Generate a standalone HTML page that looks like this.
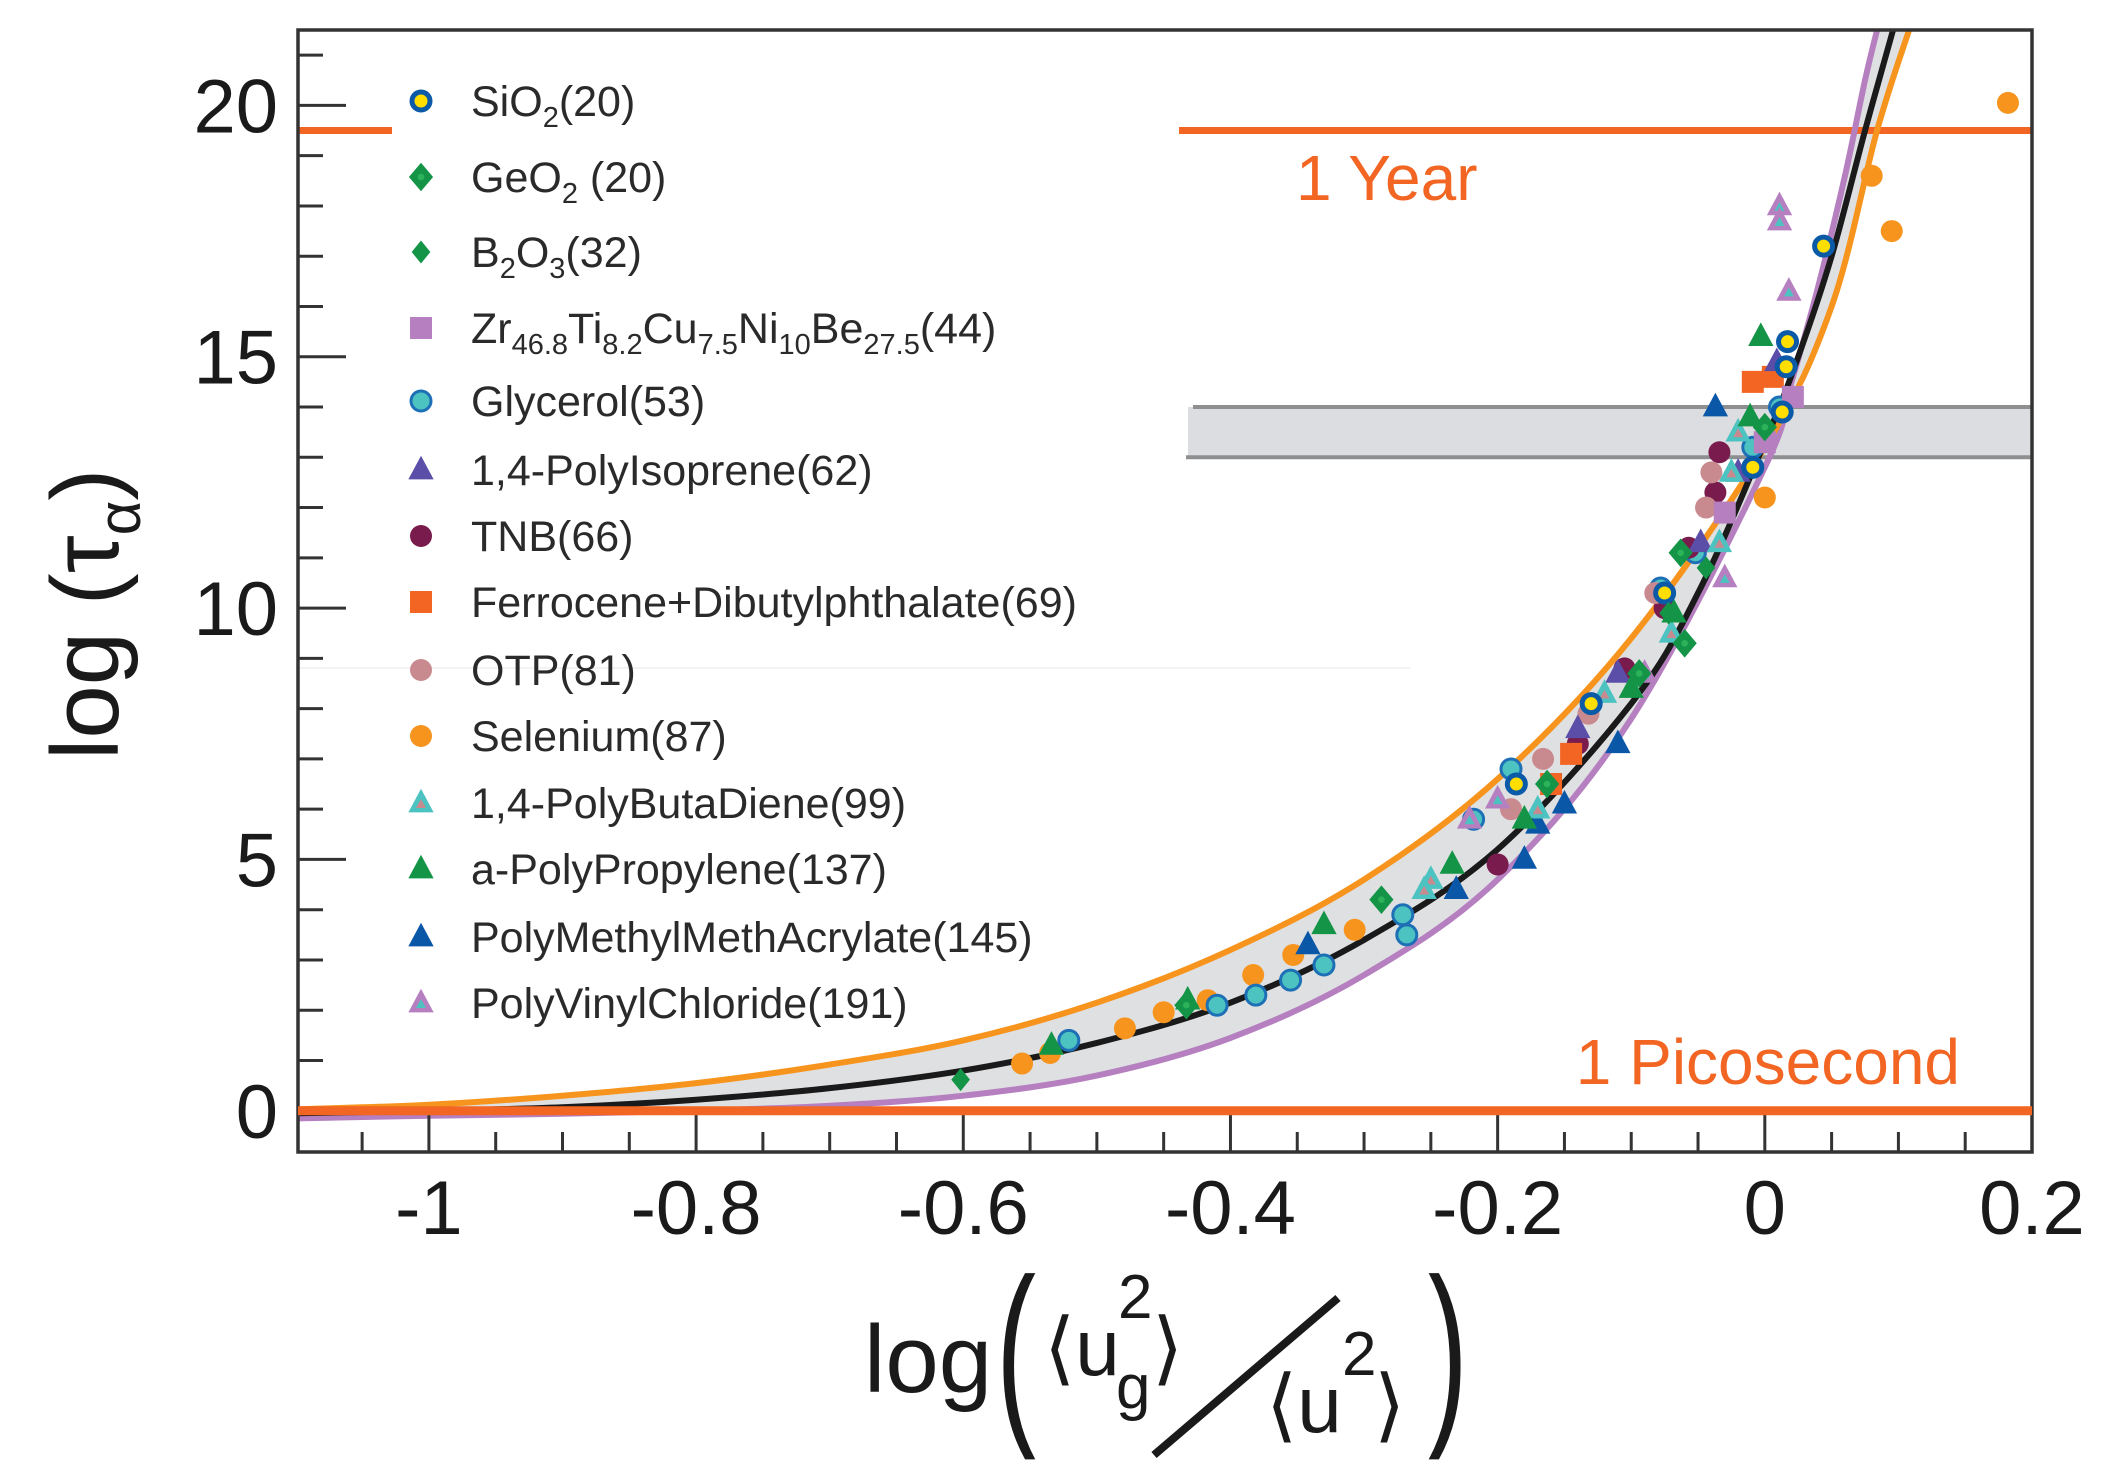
<!DOCTYPE html>
<html><head><meta charset="utf-8"><title>log tau vs log u2</title>
<style>
html,body{margin:0;padding:0;background:#fff;}
svg{display:block;font-family:"Liberation Sans",Arial,sans-serif;}
</style></head>
<body>
<svg id="chart" width="2106" height="1477" viewBox="0 0 2106 1477" xmlns="http://www.w3.org/2000/svg">
<g id="g-band"></g>
<g id="g-grid"></g>
<g id="g-curves"></g>
<g id="g-points"></g>
<g id="g-axes"></g>
<g id="g-legend"></g>
</svg>
<script>
// ---- data ----
const xTicks = [-1, -0.8, -0.6, -0.4, -0.2, 0, 0.2];
const xTickLabels = ["-1", "-0.8", "-0.6", "-0.4", "-0.2", "0", "0.2"];
const yTicks = [0, 5, 10, 15, 20];
const yTickLabels = ["0", "5", "10", "15", "20"];
const yearValue = 19.5;
const picoValue = 0;
const bandLow = 13.0;
const bandHigh = 14.0;

const blackX = [-1.098,-1,-0.9,-0.8,-0.7,-0.6,-0.5,-0.4,-0.3,-0.2,-0.1,-0.05,0,0.025,0.05,0.075,0.096];
const blackY = [-0.05,0.0,0.07,0.22,0.45,0.8,1.35,2.15,3.4,5.2,8.1,10.3,13.3,15.0,17.0,19.5,21.5];
const orangeX = [-1.098,-1,-0.9,-0.8,-0.7,-0.6,-0.5,-0.4,-0.3,-0.2,-0.1,0,0.05,0.084,0.108];
const orangeY = [0.03,0.12,0.3,0.55,0.92,1.4,2.15,3.2,4.6,6.6,9.4,13.2,16.0,19.5,21.5];
const purpleX = [-1.098,-1,-0.9,-0.8,-0.7,-0.6,-0.5,-0.4,-0.3,-0.2,-0.1,0,0.02,0.04,0.06,0.075,0.085];
const purpleY = [-0.15,-0.1,-0.06,0.0,0.1,0.3,0.7,1.45,2.7,4.6,7.8,12.8,14.5,16.4,18.6,20.5,21.6];

const sio2X = [0.044,0.017,0.016,0.013,-0.009,-0.075,-0.13,-0.186];
const sio2Y = [17.2,15.3,14.8,13.9,12.8,10.3,8.1,6.5];
const geo2X = [0,-0.063,-0.06,-0.094,-0.163,-0.287,-0.433];
const geo2Y = [13.6,11.1,9.3,8.7,6.5,4.2,2.1];
const b2o3X = [-0.602,-0.044,-0.072];
const b2o3Y = [0.62,10.8,9.9];
const zrX = [0.021,0,-0.03];
const zrY = [14.2,13.3,11.9];
const glycX = [-0.521,-0.41,-0.381,-0.355,-0.33,-0.268,-0.271,-0.218,-0.19,-0.078,-0.052,-0.009,0.011];
const glycY = [1.4,2.1,2.3,2.6,2.9,3.5,3.9,5.8,6.8,10.4,11.1,13.2,14.0];
const pisoX = [0.009,-0.02,-0.048,-0.11,-0.14];
const pisoY = [14.9,12.7,11.3,8.7,7.6];
const tnbX = [-0.034,-0.037,-0.057,-0.075,-0.105,-0.2,-0.14];
const tnbY = [13.1,12.3,11.2,10.0,8.8,4.9,7.3];
const ferroX = [-0.009,0.006,-0.145,-0.16];
const ferroY = [14.5,14.6,7.1,6.5];
const otpX = [-0.04,-0.044,-0.082,-0.132,-0.166,-0.19];
const otpY = [12.7,12.0,10.3,7.9,7.0,6.0];
const seX = [-0.556,-0.535,-0.479,-0.45,-0.417,-0.383,-0.353,-0.307,0,0.08,0.095,0.182];
const seY = [0.94,1.15,1.64,1.96,2.2,2.7,3.1,3.6,12.2,18.6,17.5,20.05];
const pbdX = [-0.02,-0.025,-0.034,-0.07,-0.12,-0.17,-0.25,-0.255];
const pbdY = [13.5,12.7,11.3,9.5,8.3,6.0,4.6,4.4];
const appX = [-0.003,-0.011,-0.068,-0.1,-0.18,-0.234,-0.33,-0.432,-0.534];
const appY = [15.4,13.8,9.9,8.4,5.8,4.9,3.7,2.2,1.3];
const pmmaX = [-0.037,-0.15,-0.11,-0.17,-0.231,-0.18,-0.342];
const pmmaY = [14.0,6.1,7.3,5.7,4.4,5.0,3.3];
const pvcX = [0.011,0.011,0.018,-0.03,-0.09,-0.2,-0.221];
const pvcY = [18.0,17.7,16.3,10.6,8.7,6.2,5.8];

// ---- layout ----
const L=298,R=2032,T=30,B=1152;
const xMin=-1.098,xMax=0.2,yMin=-0.82,yMax=21.5;
const sx=v=>L+(v-xMin)/(xMax-xMin)*(R-L);
const sy=v=>B-(v-yMin)/(yMax-yMin)*(B-T);
const NS="http://www.w3.org/2000/svg";
function mk(tag,attrs,parent){const e=document.createElementNS(NS,tag);for(const k in attrs)e.setAttribute(k,attrs[k]);if(parent)parent.appendChild(e);return e;}
function smooth(xs,ys){
  const p=xs.map((x,i)=>[sx(x),sy(ys[i])]);
  let d="M"+p[0][0]+","+p[0][1];
  for(let i=0;i<p.length-1;i++){
    const p0=p[Math.max(0,i-1)],p1=p[i],p2=p[i+1],p3=p[Math.min(p.length-1,i+2)];
    const c1=[p1[0]+(p2[0]-p0[0])/6,p1[1]+(p2[1]-p0[1])/6];
    const c2=[p2[0]-(p3[0]-p1[0])/6,p2[1]-(p3[1]-p1[1])/6];
    d+=" C"+c1[0]+","+c1[1]+" "+c2[0]+","+c2[1]+" "+p2[0]+","+p2[1];
  }
  return d;
}
const svg=document.getElementById('chart');
const gBand=document.getElementById('g-band'),gGrid=document.getElementById('g-grid'),gCurves=document.getElementById('g-curves'),gPts=document.getElementById('g-points'),gAx=document.getElementById('g-axes'),gLeg=document.getElementById('g-legend');

const clip=mk('clipPath',{id:'plotclip'},svg);
mk('rect',{x:L,y:T,width:R-L,height:B-T},clip);
[gBand,gCurves,gPts].forEach(g=>g.setAttribute('clip-path','url(#plotclip)'));

const faint=mk('line',{x1:300,y1:668,x2:1410,y2:668,stroke:'#f3f3f3','stroke-width':2},gGrid);



let fd=smooth(orangeX,orangeY);
const rpx=purpleX.slice().reverse(),rpy=purpleY.slice().reverse();
fd+=" L"+sx(rpx[0])+","+sy(rpy[0])+" "+smooth(rpx,rpy).replace(/^M/," L")+" Z";
const env=mk('path',{d:fd,fill:'#dfe0e2',stroke:'none'},gBand);



const band=mk('rect',{x:1188,y:sy(bandHigh),width:R-1188,height:sy(bandLow)-sy(bandHigh),fill:'#dcdde0',stroke:'none'},gGrid);


const bt=mk('line',{x1:1193,y1:sy(bandHigh),x2:R,y2:sy(bandHigh),stroke:'#8e8f91','stroke-width':4},gGrid);


const bb=mk('line',{x1:1186,y1:sy(bandLow),x2:R,y2:sy(bandLow),stroke:'#8e8f91','stroke-width':4},gGrid);



const y1=mk('line',{x1:1179,y1:sy(yearValue),x2:R,y2:sy(yearValue),stroke:'#f26522','stroke-width':7},gGrid);


const y1b=mk('line',{x1:L,y1:sy(yearValue),x2:392,y2:sy(yearValue),stroke:'#f26522','stroke-width':7},gGrid);


const yt=mk('text',{x:1296,y:200,'font-size':64,fill:'#f26522'},gGrid);
yt.textContent='1 Year';



function curve(xs,ys,col,w,name){
  const p=mk('path',{d:smooth(xs,ys),fill:'none',stroke:col,'stroke-width':w},gCurves);
  
  
}
curve(purpleX,purpleY,'#b57fc0',6,'purple-fit-curve');
curve(orangeX,orangeY,'#f7941d',6,'orange-fit-curve');

function marker(type,x,y,s,g){
  const cx=sx(x),cy=sy(y);const r=s;
  if(type==='sio2'){mk('circle',{cx,cy,r:r-2,fill:'#ffde00',stroke:'#0a5aa8','stroke-width':5},g);}
  else if(type==='diamond'){mk('polygon',{points:`${cx},${cy-r*1.3} ${cx+r*1.1},${cy} ${cx},${cy+r*1.3} ${cx-r*1.1},${cy}`,fill:'#149447'},g);mk('circle',{cx,cy,r:r*0.3,fill:'#2cb35a'},g);}
  else if(type==='diamondS'){mk('polygon',{points:`${cx},${cy-r*1.05} ${cx+r*0.85},${cy} ${cx},${cy+r*1.05} ${cx-r*0.85},${cy}`,fill:'#149447'},g);}
  else if(type==='square'){mk('rect',{x:cx-r,y:cy-r,width:2*r,height:2*r,fill:arguments[5]},g);}
  else if(type==='glyc'){mk('circle',{cx,cy,r:r-1,fill:'#4cc3c0',stroke:'#1d6fb6','stroke-width':3},g);}
  else if(type==='circle'){mk('circle',{cx,cy,r,fill:arguments[5]},g);}
  else if(type==='tri'){mk('polygon',{points:`${cx},${cy-r*1.3} ${cx+r*1.15},${cy+r*0.85} ${cx-r*1.15},${cy+r*0.85}`,fill:arguments[5]},g);
    if(arguments[6]) mk('polygon',{points:`${cx},${cy-r*0.35} ${cx+r*0.45},${cy+r*0.45} ${cx-r*0.45},${cy+r*0.45}`,fill:arguments[6]},g);}
}
const series=[
 {name:'series-selenium',xs:seX,ys:seY,type:'circle',c:'#f7941d'},
 {name:'series-glycerol',xs:glycX,ys:glycY,type:'glyc'},
 {name:'series-tnb',xs:tnbX,ys:tnbY,type:'circle',c:'#7a1b4e'},
 {name:'series-otp',xs:otpX,ys:otpY,type:'circle',c:'#c98a8f'},
 {name:'series-ferrocene',xs:ferroX,ys:ferroY,type:'square',c:'#f26522'},
 {name:'series-zr-alloy',xs:zrX,ys:zrY,type:'square',c:'#b57fc0'},
 {name:'series-polyisoprene',xs:pisoX,ys:pisoY,type:'tri',c:'#5b4ea8'},
 {name:'series-pmma',xs:pmmaX,ys:pmmaY,type:'tri',c:'#0a57a8'},
 {name:'series-polybutadiene',xs:pbdX,ys:pbdY,type:'tri',c:'#4cc3c0',c2:'#c98a8f'},
 {name:'series-pvc',xs:pvcX,ys:pvcY,type:'tri',c:'#b57fc0',c2:'#4cc3c0'},
 {name:'series-polypropylene',xs:appX,ys:appY,type:'tri',c:'#149447'},
 {name:'series-sio2',xs:sio2X,ys:sio2Y,type:'sio2'},
 {name:'series-geo2',xs:geo2X,ys:geo2Y,type:'diamond'},
 {name:'series-b2o3',xs:b2o3X,ys:b2o3Y,type:'diamondS'}
];
series.forEach(s=>{
  const g=mk('g',{},gPts);
  
  
  s.xs.forEach((x,i)=>marker(s.type,x,s.ys[i],11,g,s.c,s.c2));
});
curve(blackX,blackY,'#1a1a1a',6,'black-fit-curve');

const frame=mk('rect',{x:L,y:T,width:R-L,height:B-T,fill:'none',stroke:'#333','stroke-width':3.5},gAx);


for(let v=-1.05;v<0.2001;v+=0.05){
  const vv=Math.round(v*100)/100;const major=Math.abs(vv*10-Math.round(vv*10))<1e-6 && Math.round(vv*10)%2===0;
  const tk=mk('line',{x1:sx(vv),y1:B,x2:sx(vv),y2:B-(major?38:20),stroke:'#333','stroke-width':3},gAx);
  
  
}
for(let v=0;v<=21;v++){
  const major=v%5===0;
  const tk=mk('line',{x1:L,y1:sy(v),x2:L+(major?48:25),y2:sy(v),stroke:'#333','stroke-width':3},gAx);
  
  
}
const pl=mk('line',{x1:L,y1:sy(picoValue),x2:R,y2:sy(picoValue),stroke:'#f26522','stroke-width':9},gAx);


const pt=mk('text',{x:1960,y:1084,'font-size':64,fill:'#f26522','text-anchor':'end'},gAx);
pt.textContent='1 Picosecond';



xTicks.forEach((v,i)=>{
  const t=mk('text',{x:sx(v),y:1234,'font-size':76,'text-anchor':'middle',fill:'#1a1a1a'},gAx);
  t.textContent=xTickLabels[i];
  
  
});
yTicks.forEach((v,i)=>{
  const t=mk('text',{x:278,y:sy(v)+27,'font-size':76,'text-anchor':'end',fill:'#1a1a1a'},gAx);
  t.textContent=yTickLabels[i];
  
  
});

const legNames=[
 null,null,null,null,['Glycerol(53)','glyc'],['1,4-PolyIsoprene(62)','tri','#5b4ea8'],['TNB(66)','circle','#7a1b4e'],
 ['Ferrocene+Dibutylphthalate(69)','square','#f26522'],['OTP(81)','circle','#c98a8f'],['Selenium(87)','circle','#f7941d'],
 ['1,4-PolyButaDiene(99)','tri','#4cc3c0','#c98a8f'],['a-PolyPropylene(137)','tri','#149447'],
 ['PolyMethylMethAcrylate(145)','tri','#0a57a8'],['PolyVinylChloride(191)','tri','#b57fc0','#4cc3c0']
];
const legY=[101,177,252,328,401,470,536,602,670,736,803,869,937,1003];
const legKeys=['sio2','geo2','b2o3','zr','glycerol','polyisoprene','tnb','ferrocene','otp','selenium','polybutadiene','polypropylene','pmma','pvc'];
legY.forEach((y,i)=>{
  const g=mk('g',{},gLeg);
  
  
  const mx=421, tx=471, fs=43;
  const cy=y;
  const mg=mk('g',{transform:`translate(${mx-sx(0)},${cy-sy(0)})`},g);
  const t=mk('text',{x:tx,y:cy+15,'font-size':fs,fill:'#2a2a2a'},g);
  const sub=(s)=>`<tspan font-size="29" dy="11">${s}</tspan>`;
  const up=(s)=>`<tspan dy="-11">${s}</tspan>`;
  if(i===0){marker('sio2',0,0,11,mg);t.innerHTML='SiO'+sub('2')+up('(20)');}
  else if(i===1){marker('diamond',0,0,11,mg);t.innerHTML='GeO'+sub('2')+up(' (20)');}
  else if(i===2){marker('diamondS',0,0,11,mg);t.innerHTML='B'+sub('2')+up('O')+sub('3')+up('(32)');}
  else if(i===3){marker('square',0,0,11,mg,'#b57fc0');t.innerHTML='Zr'+sub('46.8')+up('Ti')+sub('8.2')+up('Cu')+sub('7.5')+up('Ni')+sub('10')+up('Be')+sub('27.5')+up('(44)');}
  else {const e=legNames[i];marker(e[1],0,0,11,mg,e[2],e[3]);t.textContent=e[0];}
});

const yl=mk('text',{transform:'translate(118,760) rotate(-90)','font-size':96,fill:'#1a1a1a'},gAx);
yl.innerHTML='log (τ<tspan font-size="60" dy="22">α</tspan><tspan dy="-22">)</tspan>';



const xt=mk('g',{},gAx);


const t1=mk('text',{x:864,y:1392,'font-size':96,fill:'#1a1a1a'},xt);t1.textContent='log';
const t2=mk('text',{transform:'translate(996,1418) scale(0.6,1)','font-size':200,fill:'#1a1a1a'},xt);t2.textContent='(';
const t3=mk('text',{transform:'translate(1428,1418) scale(0.6,1)','font-size':200,fill:'#1a1a1a'},xt);t3.textContent=')';
const t4=mk('text',{x:1044,y:1375,'font-size':80,fill:'#1a1a1a'},xt);t4.textContent='⟨u';
const t5=mk('text',{x:1118,y:1318,'font-size':62,fill:'#1a1a1a'},xt);t5.textContent='2';
const t6=mk('text',{x:1116,y:1408,'font-size':62,fill:'#1a1a1a'},xt);t6.textContent='g';
const t7=mk('text',{x:1152,y:1375,'font-size':80,fill:'#1a1a1a'},xt);t7.textContent='⟩';
mk('line',{x1:1154,y1:1455,x2:1338,y2:1298,stroke:'#1a1a1a','stroke-width':8},xt);
const t8=mk('text',{x:1266,y:1432,'font-size':80,fill:'#1a1a1a'},xt);t8.textContent='⟨u';
const t9=mk('text',{x:1342,y:1375,'font-size':62,fill:'#1a1a1a'},xt);t9.textContent='2';
const t10=mk('text',{x:1374,y:1432,'font-size':80,fill:'#1a1a1a'},xt);t10.textContent='⟩';
</script>
</body></html>
